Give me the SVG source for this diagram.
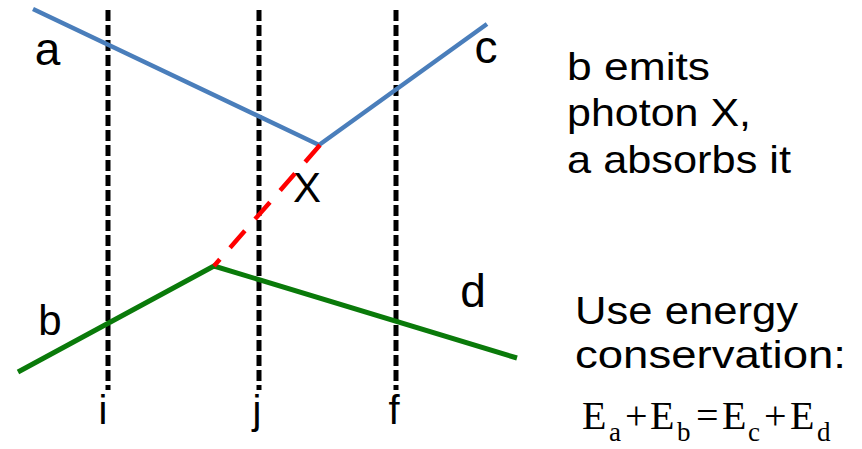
<svg xmlns="http://www.w3.org/2000/svg" width="862" height="449" viewBox="0 0 862 449">
<style>
.slice{stroke:#000;stroke-width:5;stroke-dasharray:11 4;fill:none}
.blue{stroke:#4A7EBB;stroke-width:4.5;fill:none;stroke-linejoin:miter}
.green{stroke:#0A7A0A;stroke-width:5;fill:none}
.photon{stroke:#FF0000;stroke-width:4.5;stroke-dasharray:22.5 15.5;fill:none}
.lbl{font-family:"Liberation Sans",Arial,sans-serif;fill:#000;text-anchor:middle}
.txt{font-family:"Liberation Sans",Arial,sans-serif;fill:#000}
.eq{font-family:"Liberation Serif","Times New Roman",serif;fill:#000}
</style>
<rect width="862" height="449" fill="#fff"/>
<g id="time-slices">
<line class="slice" x1="108" y1="10" x2="108" y2="390"/>
<line class="slice" x1="259" y1="10" x2="259" y2="390"/>
<line class="slice" x1="396" y1="10" x2="396" y2="390"/>
</g>
<g id="connectors">
<polyline id="line-a-c" class="blue" points="33,9 319,145 487,24"/>
<polyline id="line-b-d" class="green" points="18,372 214,266 517,358"/>
<line id="photon-X" class="photon" x1="320" y1="145" x2="214" y2="266"/>
</g>
<g id="labels">
<text class="lbl" x="47.5" y="65" font-size="46">a</text>
<text class="lbl" x="486" y="63" font-size="46">c</text>
<text class="lbl" x="50" y="335" font-size="42">b</text>
<text class="lbl" x="473" y="307" font-size="46">d</text>
<text class="lbl" x="307" y="202" font-size="42">X</text>
<text class="lbl" x="103" y="424" font-size="40">i</text>
<text class="lbl" x="257" y="424" font-size="40">j</text>
<text class="lbl" x="394" y="424" font-size="40">f</text>
</g>
<g id="note-process">
<text class="txt" x="567" y="80" font-size="39" textLength="143" lengthAdjust="spacingAndGlyphs">b emits</text>
<text class="txt" x="567" y="126" font-size="39" textLength="184" lengthAdjust="spacingAndGlyphs">photon X,</text>
<text class="txt" x="567" y="173" font-size="39" textLength="224" lengthAdjust="spacingAndGlyphs">a absorbs it</text>
</g>
<g id="note-conservation">
<text class="txt" x="575" y="324" font-size="39" textLength="223" lengthAdjust="spacingAndGlyphs">Use energy</text>
<text class="txt" x="575" y="368" font-size="39" textLength="271" lengthAdjust="spacingAndGlyphs">conservation:</text>
<text class="eq" y="429" font-size="40"><tspan x="582">E</tspan><tspan x="609" y="441" font-size="27">a</tspan><tspan x="625" y="429">+</tspan><tspan x="650">E</tspan><tspan x="677" y="441" font-size="27">b</tspan><tspan x="696" y="429">=</tspan><tspan x="722">E</tspan><tspan x="748" y="441" font-size="27">c</tspan><tspan x="764" y="429">+</tspan><tspan x="790">E</tspan><tspan x="817" y="441" font-size="27">d</tspan></text>
</g>
</svg>
